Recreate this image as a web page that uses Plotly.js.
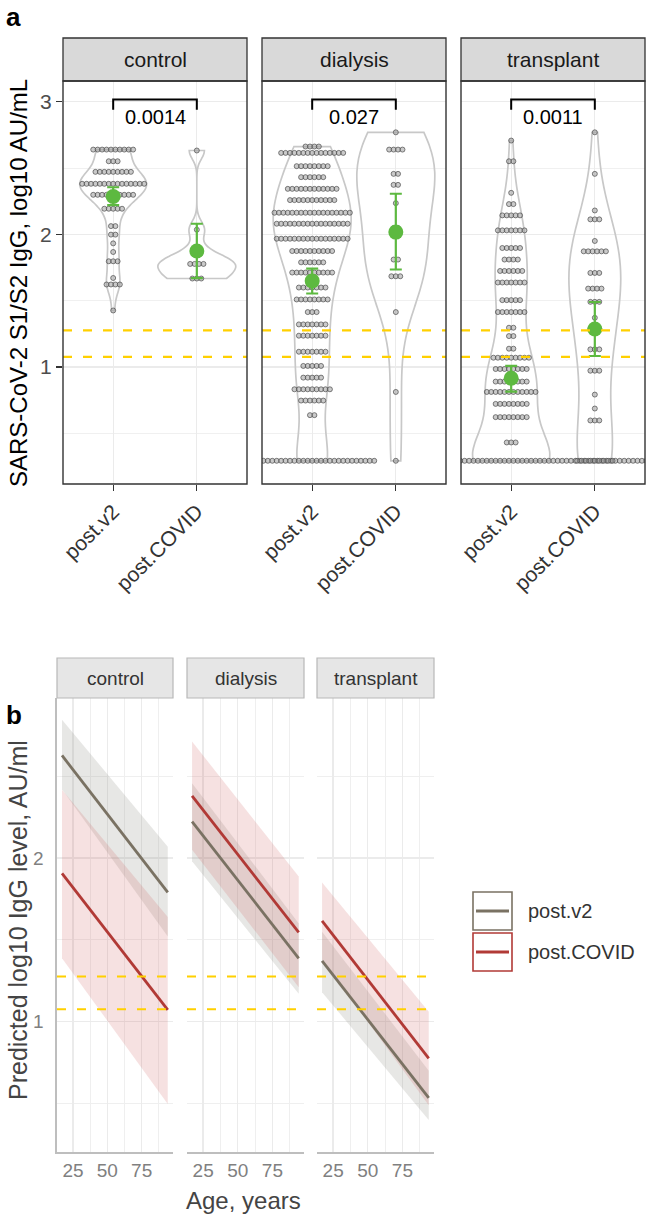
<!DOCTYPE html>
<html>
<head>
<meta charset="utf-8">
<script src="https://cdn.plot.ly/plotly-3.0.1.min.js"></script>
<style>html,body{margin:0;padding:0;background:#fff;}#chart{width:647px;height:1215px;}</style>
</head>
<body>
<div id="chart"></div>
<script>
// ---------------- DATA ----------------
const facets = ['control', 'dialysis', 'transplant'];
const timepoints = ['post.v2', 'post.COVID'];
const yTicksA = [1, 2, 3];
const yTickTextA = ['1', '2', '3'];
const yTicksB = [1, 2];
const yTickTextB = ['1', '2'];
const xTicksB = [25, 50, 75];
const xTickTextB = ['25', '50', '75'];
const cutoffs = [1.076, 1.276];
const pvals = ['0.0014', '0.027', '0.0011'];

// dot rows (log10 level of each row, number of dots in row)
const ctrlV2Y = [2.639, 2.551, 2.471, 2.381, 2.298, 2.193, 2.062, 1.998, 1.932, 1.867, 1.797, 1.671, 1.622, 1.426];
const ctrlV2N = [10, 3, 9, 15, 10, 5, 2, 2, 1, 1, 3, 1, 4, 1];
const ctrlCovY = [2.632, 2.035, 1.867, 1.777, 1.667];
const ctrlCovN = [1, 1, 1, 4, 3];
const dialV2Y = [2.662, 2.614, 2.514, 2.431, 2.343, 2.258, 2.163, 2.08, 1.967, 1.874, 1.789, 1.712, 1.599, 1.509, 1.414, 1.321, 1.236, 1.115, 1.008, 0.92, 0.832, 0.747, 0.637, 0.293];
const dialV2N = [4, 15, 8, 6, 12, 11, 18, 17, 17, 10, 6, 10, 7, 8, 3, 7, 7, 7, 5, 5, 9, 6, 2, 29];
const dialCovY = [2.769, 2.639, 2.456, 2.373, 2.235, 2.047, 1.81, 1.684, 1.414, 0.812, 0.293];
const dialCovN = [1, 4, 2, 2, 1, 2, 2, 3, 1, 1, 1];
const tranV2Y = [2.707, 2.551, 2.313, 2.228, 2.143, 2.03, 1.897, 1.81, 1.724, 1.637, 1.504, 1.414, 1.296, 1.233, 1.138, 1.07, 0.985, 0.89, 0.812, 0.722, 0.622, 0.431, 0.293];
const tranV2N = [1, 2, 1, 2, 5, 7, 5, 4, 6, 7, 5, 7, 2, 2, 2, 9, 8, 8, 12, 8, 8, 3, 62];
const tranCovY = [2.769, 2.456, 2.18, 2.113, 1.95, 1.872, 1.709, 1.591, 1.491, 1.371, 1.29, 1.133, 0.972, 0.792, 0.687, 0.597, 0.293];
const tranCovN = [1, 1, 1, 3, 1, 6, 3, 4, 3, 1, 3, 3, 3, 1, 1, 3, 9];

// group means with interval (post.v2, post.COVID)
const meanCtrl = [2.285, 1.875], loCtrl = [2.22, 1.67], hiCtrl = [2.355, 2.08];
const meanDial = [1.649, 2.017], loDial = [1.554, 1.735], hiDial = [1.742, 2.306];
const meanTran = [0.915, 1.286], loTran = [0.815, 1.083], hiTran = [1.008, 1.49];

// panel b: predicted level vs age
const ages = [17, 94];
const fitCtrlV2 = [2.626, 1.79], loCtrlV2 = [2.42, 1.52], hiCtrlV2 = [2.844, 2.069];
const fitCtrlCov = [1.906, 1.072], loCtrlCov = [1.388, 0.497], hiCtrlCov = [2.416, 1.64];
const fitDialV2 = [2.222, 1.387], loDialV2 = [1.98, 1.17], hiDialV2 = [2.457, 1.60];
const fitDialCov = [2.379, 1.545], loDialCov = [2.05, 1.21], hiDialCov = [2.711, 1.886];
const fitTranV2 = [1.371, 0.535], loTranV2 = [1.18, 0.40], hiTranV2 = [1.55, 0.70];
const fitTranCov = [1.616, 0.776], loTranCov = [1.38, 0.49], hiTranCov = [1.85, 1.06];

// ---------------- HELPERS ----------------
const W = 647, H = 1215;
const PX = x => x / W;
const PY = y => 1 - y / H;
const FONT = 'Liberation Sans, Arial, Helvetica, sans-serif';

function nrd0(v) {
  const n = v.length;
  const m = v.reduce((a, b) => a + b, 0) / n;
  const sd = Math.sqrt(v.reduce((a, b) => a + (b - m) * (b - m), 0) / (n - 1));
  const s = v.slice().sort((a, b) => a - b);
  const q = p => { const h = (n - 1) * p, lo = Math.floor(h); return s[lo] + (h - lo) * ((s[lo + 1] !== undefined ? s[lo + 1] : s[lo]) - s[lo]); };
  let lo = Math.min(sd, (q(0.75) - q(0.25)) / 1.34);
  if (!(lo > 0)) lo = sd > 0 ? sd : (Math.abs(s[0]) || 1);
  return 0.9 * lo * Math.pow(n, -0.2);
}

// ---------------- PANEL A ----------------
const xaA = ['x', 'x2', 'x3'];
const rowsY = [[ctrlV2Y, ctrlCovY], [dialV2Y, dialCovY], [tranV2Y, tranCovY]];
const rowsN = [[ctrlV2N, ctrlCovN], [dialV2N, dialCovN], [tranV2N, tranCovN]];
const means = [meanCtrl, meanDial, meanTran];
const los = [loCtrl, loDial, loTran];
const his = [hiCtrl, hiDial, hiTran];
const violinW = [[0.80, 0.93], [0.93, 0.93], [0.92, 0.62]];
const dotStep = 0.053; // dot diameter in x data units
const GREEN = '#5DB940';

const traces = [];
for (let f = 0; f < 3; f++) {
  for (let t = 0; t < 2; t++) {
    const ys = rowsY[f][t], ns = rowsN[f][t];
    const vals = [];
    ys.forEach((y, i) => { for (let k = 0; k < ns[i]; k++) vals.push(y); });
    traces.push({
      type: 'violin', x0: t + 1, y: vals, xaxis: xaA[f], yaxis: 'y',
      width: violinW[f][t], scalemode: 'width', spanmode: 'hard',
      bandwidth: nrd0(vals), points: false,
      fillcolor: 'rgba(0,0,0,0)', line: { color: '#C8C8C8', width: 1.7 },
      box: { visible: false }, meanline: { visible: false },
      hoverinfo: 'skip', showlegend: false
    });
  }
}
for (let f = 0; f < 3; f++) {
  const dx = [], dy = [];
  for (let t = 0; t < 2; t++) {
    const ys = rowsY[f][t], ns = rowsN[f][t];
    ys.forEach((y, i) => {
      const n = ns[i];
      for (let k = 0; k < n; k++) { dx.push(t + 1 + (k - (n - 1) / 2) * dotStep); dy.push(y); }
    });
  }
  traces.push({
    type: 'scatter', mode: 'markers', x: dx, y: dy, xaxis: xaA[f], yaxis: 'y',
    marker: { size: 5, color: 'rgba(150,150,150,0.5)', line: { color: 'rgba(70,70,70,0.75)', width: 0.9 } },
    hoverinfo: 'skip', showlegend: false
  });
}
for (let f = 0; f < 3; f++) {
  traces.push({
    type: 'scatter', mode: 'markers', x: [1, 2], y: means[f], xaxis: xaA[f], yaxis: 'y',
    marker: { size: 15, color: GREEN },
    error_y: {
      type: 'data', symmetric: false,
      array: means[f].map((m, i) => his[f][i] - m),
      arrayminus: means[f].map((m, i) => m - los[f][i]),
      color: GREEN, thickness: 2.2, width: 6
    },
    hoverinfo: 'skip', showlegend: false
  });
}

// ---------------- PANEL B ----------------
const xaB = ['x4', 'x5', 'x6'];
const GREY = '#7A7263', RED = '#B13A36';
const GREY_F = 'rgba(135,135,125,0.20)', RED_F = 'rgba(205,90,90,0.18)';
const fits = [[fitCtrlV2, fitCtrlCov], [fitDialV2, fitDialCov], [fitTranV2, fitTranCov]];
const lowsB = [[loCtrlV2, loCtrlCov], [loDialV2, loDialCov], [loTranV2, loTranCov]];
const highsB = [[hiCtrlV2, hiCtrlCov], [hiDialV2, hiDialCov], [hiTranV2, hiTranCov]];
const lineCols = [GREY, RED], fillCols = [GREY_F, RED_F];
for (let f = 0; f < 3; f++) {
  for (let t = 0; t < 2; t++) {
    traces.push({
      type: 'scatter', mode: 'lines', xaxis: xaB[f], yaxis: 'y2',
      x: ages.concat(ages.slice().reverse()),
      y: highsB[f][t].concat(lowsB[f][t].slice().reverse()),
      fill: 'toself', fillcolor: fillCols[t], line: { width: 0 },
      hoverinfo: 'skip', showlegend: false
    });
  }
}
for (let f = 0; f < 3; f++) {
  for (let t = 0; t < 2; t++) {
    traces.push({
      type: 'scatter', mode: 'lines', xaxis: xaB[f], yaxis: 'y2',
      x: ages, y: fits[f][t], line: { color: lineCols[t], width: 2.8 },
      hoverinfo: 'skip', showlegend: false
    });
  }
}

// ---------------- LAYOUT ----------------
const panelAx = [[63, 247], [262, 446], [461, 645]];
const panelBx = [[57, 173], [187, 304], [317, 434]];
const layout = {
  width: W, height: H, margin: { l: 0, r: 0, t: 0, b: 0 },
  paper_bgcolor: '#fff', plot_bgcolor: '#fff', showlegend: false,
  violinmode: 'overlay',
  font: { family: FONT, color: '#333' },
  yaxis: {
    domain: [PY(484), PY(81)], range: [0.118, 3.156], anchor: 'x',
    tickvals: yTicksA, ticktext: yTickTextA, ticks: 'outside', ticklen: 6, tickwidth: 1.3, tickcolor: '#333',
    tickfont: { size: 21, color: '#4D4D4D', family: FONT },
    showgrid: true, gridcolor: '#EBEBEB', gridwidth: 1.3, zeroline: false, showline: false,
    minor: { tickvals: [0.5, 1.5, 2.5], showgrid: true, gridcolor: '#F0F0F0', gridwidth: 1, ticks: '' }
  },
  yaxis2: {
    domain: [PY(1152), PY(698)], range: [0.204, 2.977], anchor: 'x4',
    tickvals: yTicksB, ticktext: yTickTextB, ticks: 'outside', ticklen: 8, tickcolor: 'rgba(0,0,0,0)',
    tickfont: { size: 19, color: '#808080', family: FONT },
    showgrid: true, gridcolor: '#EBEBEB', gridwidth: 1.3, zeroline: false,
    showline: true, linecolor: '#BEBEBE', linewidth: 1.6,
    minor: { tickvals: [0.5, 1.5, 2.5], showgrid: true, gridcolor: '#EFEFEF', gridwidth: 1.1, ticks: '' }
  },
  shapes: [], annotations: []
};
for (let f = 0; f < 3; f++) {
  const key = f === 0 ? 'xaxis' : 'xaxis' + (f + 1);
  layout[key] = {
    type: 'linear', domain: [PX(panelAx[f][0]), PX(panelAx[f][1])], range: [0.4, 2.6], anchor: 'y',
    tickvals: [1, 2], ticktext: timepoints, tickangle: -45,
    ticks: 'outside', ticklen: 6, tickwidth: 1.3, tickcolor: '#333',
    tickfont: { size: 21, color: '#333', family: FONT },
    showgrid: true, gridcolor: '#EBEBEB', gridwidth: 1.3, zeroline: false, showline: false
  };
  const keyB = 'xaxis' + (f + 4);
  layout[keyB] = {
    type: 'linear', domain: [PX(panelBx[f][0]), PX(panelBx[f][1])], range: [13.35, 97.8], anchor: 'y2',
    tickvals: xTicksB, ticktext: xTickTextB, ticks: 'outside', ticklen: 1, tickcolor: 'rgba(0,0,0,0)',
    tickfont: { size: 19, color: '#808080', family: FONT },
    showgrid: true, gridcolor: '#EBEBEB', gridwidth: 1.3, zeroline: false,
    showline: true, linecolor: '#BEBEBE', linewidth: 1.6,
    minor: { tickvals: [12.5, 37.5, 62.5, 87.5], showgrid: true, gridcolor: '#EFEFEF', gridwidth: 1.1, ticks: '' }
  };
}

// panel A decorations
for (let f = 0; f < 3; f++) {
  const xr = f === 0 ? 'x' : 'x' + (f + 1);
  layout.shapes.push({ type: 'rect', xref: 'paper', yref: 'paper', x0: PX(panelAx[f][0]), x1: PX(panelAx[f][1]), y0: PY(81), y1: PY(38), fillcolor: '#D9D9D9', line: { color: '#333', width: 1.3 }, layer: 'above' });
  layout.annotations.push({ xref: 'paper', yref: 'paper', x: PX((panelAx[f][0] + panelAx[f][1]) / 2), y: PY(59.5), text: facets[f], showarrow: false, xanchor: 'center', yanchor: 'middle', font: { size: 21, color: '#1A1A1A', family: FONT } });
  cutoffs.forEach(c => layout.shapes.push({ type: 'line', xref: xr + ' domain', yref: 'y', x0: 0, x1: 1, y0: c, y1: c, line: { color: '#FFD000', width: 2.2, dash: '9px,11px' }, layer: 'above' }));
  layout.shapes.push({ type: 'rect', xref: xr + ' domain', yref: 'y domain', x0: 0, x1: 1, y0: 0, y1: 1, line: { color: '#333', width: 1.4 }, fillcolor: 'rgba(0,0,0,0)', layer: 'above' });
  layout.shapes.push({ type: 'path', xref: xr, yref: 'y', path: 'M 1,2.94 L 1,3.017 L 2,3.017 L 2,2.94', line: { color: '#000', width: 2 }, layer: 'above' });
  layout.annotations.push({ xref: xr, yref: 'y', x: 1.5, y: 2.885, text: pvals[f], showarrow: false, xanchor: 'center', yanchor: 'middle', font: { size: 20, color: '#000', family: FONT } });
}
// panel B decorations
for (let f = 0; f < 3; f++) {
  const xr = 'x' + (f + 4);
  layout.shapes.push({ type: 'rect', xref: 'paper', yref: 'paper', x0: PX(panelBx[f][0]), x1: PX(panelBx[f][1]), y0: PY(698), y1: PY(658), fillcolor: '#E6E6E6', line: { color: '#B8B8B8', width: 1.2 }, layer: 'above' });
  layout.annotations.push({ xref: 'paper', yref: 'paper', x: PX((panelBx[f][0] + panelBx[f][1]) / 2), y: PY(678.5), text: facets[f], showarrow: false, xanchor: 'center', yanchor: 'middle', font: { size: 19, color: '#333', family: FONT } });
  cutoffs.forEach(c => layout.shapes.push({ type: 'line', xref: xr + ' domain', yref: 'y2', x0: 0, x1: 1, y0: c, y1: c, line: { color: '#FFD000', width: 2.2, dash: '9px,11px' }, layer: 'above' }));
}
// legend (manual keys)
const legTop = [892, 933];
for (let t = 0; t < 2; t++) {
  layout.shapes.push({ type: 'rect', xref: 'paper', yref: 'paper', x0: PX(473), x1: PX(512), y0: PY(legTop[t] + 38), y1: PY(legTop[t]), fillcolor: '#fff', line: { color: lineCols[t], width: 1.6 }, layer: 'above' });
  layout.shapes.push({ type: 'line', xref: 'paper', yref: 'paper', x0: PX(476), x1: PX(509), y0: PY(legTop[t] + 19), y1: PY(legTop[t] + 19), line: { color: lineCols[t], width: 2.8 }, layer: 'above' });
  layout.annotations.push({ xref: 'paper', yref: 'paper', x: PX(526), y: PY(legTop[t] + 19), text: timepoints[t], showarrow: false, xanchor: 'left', yanchor: 'middle', font: { size: 20, color: '#333', family: FONT } });
}
// titles and panel letters
layout.annotations.push(
  { xref: 'paper', yref: 'paper', x: PX(18), y: PY(283), text: 'SARS-CoV-2 S1/S2 IgG, log10 AU/mL', textangle: -90, showarrow: false, xanchor: 'center', yanchor: 'middle', font: { size: 24, color: '#000', family: FONT } },
  { xref: 'paper', yref: 'paper', x: PX(18), y: PY(920), text: 'Predicted log10 IgG level, AU/ml', textangle: -90, showarrow: false, xanchor: 'center', yanchor: 'middle', font: { size: 25, color: '#444', family: FONT } },
  { xref: 'paper', yref: 'paper', x: PX(243.5), y: PY(1200), text: 'Age, years', showarrow: false, xanchor: 'center', yanchor: 'middle', font: { size: 24, color: '#444', family: FONT } },
  { xref: 'paper', yref: 'paper', x: PX(4), y: PY(0), text: '<b>a</b>', showarrow: false, xanchor: 'left', yanchor: 'top', font: { size: 26, color: '#000', family: FONT } },
  { xref: 'paper', yref: 'paper', x: PX(4), y: PY(698), text: '<b>b</b>', showarrow: false, xanchor: 'left', yanchor: 'top', font: { size: 26, color: '#000', family: FONT } }
);

Plotly.newPlot('chart', traces, layout, { displayModeBar: false, staticPlot: true });
</script>
</body>
</html>
